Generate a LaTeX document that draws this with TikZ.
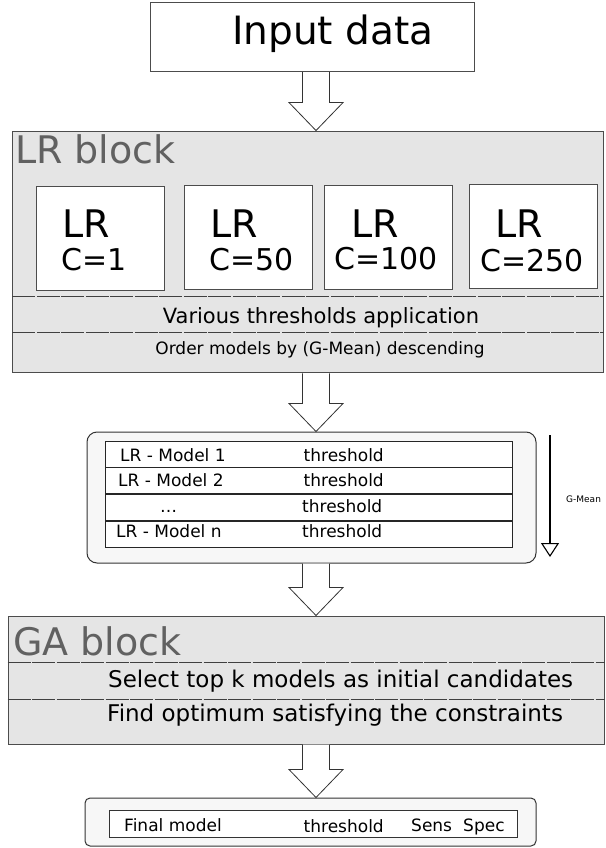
\documentclass[tikz,border=0pt]{standalone}
\usepackage{fontspec}
\setmainfont{DejaVu Sans}
\usetikzlibrary{positioning,calc,arrows.meta}
\definecolor{blockfill}{gray}{0.9}
\definecolor{edgegray}{gray}{0.3}
\definecolor{titlegray}{gray}{0.38}

% hollow block arrow from the bottom of #1 to the top of #2
\newcommand{\fatarrow}[2]{%
  \draw[hollow] ($(ax |- #1.south)+(-13.5,0)$) -- ($(ax |- #2.north)+(-13.5,-28)$)
    -- ++(-13.5,0) -- (ax |- #2.north) -- ($(ax |- #2.north)+(27,-28)$)
    -- ++(-13.5,0) -- ($(ax |- #1.south)+(13.5,0)$);}

\begin{document}
\begin{tikzpicture}[
  x=1pt, y=-1pt,
  block/.style = {
    draw = edgegray,
    fill = blockfill,
    rectangle,
    line width = 1pt,
  },
  model/.style = {
    draw = edgegray,
    fill = white,
    rectangle,
    line width = 0.9pt,
    minimum width = 128pt,
    minimum height = 104pt,
  },
  plain/.style = {
    draw = black!80,
    fill = white,
    rectangle,
    line width = 1pt,
  },
  panel/.style = {
    plain,
    fill = black!3,
  },
  tbl/.style = {
    draw = black!85,
    fill = white,
    rectangle,
    line width = 0.9pt,
    minimum width = 407pt,
    minimum height = 26pt,
    inner sep = 0pt,
  },
  txt/.style = {
    inner sep = 0pt,
    anchor = base west,
    font = \fontsize{#1}{#1}\selectfont,
  },
  title/.style = {
    txt = 38,
    text = titlegray,
  },
  sep/.style = {
    draw = black!75,
    line width = 0.8pt,
    dash pattern = on 23pt off 1.5pt,
  },
  hollow/.style = {
    draw = black!80,
    fill = white,
    line width = 0.8pt,
  },
]

  \useasboundingbox (0,0) rectangle (605,848);
  \coordinate (ax) at (316,0);

  % input
  \node[plain,draw=edgegray,minimum width=324pt,minimum height=69pt] (in) at (312,37.2) {};
  \node[txt=39] (int) at (232,45) {Input data};

  % LR block
  \node[block,minimum width=591pt,minimum height=241.7pt] (lr) at (308.3,251.9) {};
  \node[title] (lrt) at (15,163) {LR block};

  \node[model] (m1) at (100,238) {};
  \node[model] (m2) at (248,237) {};
  \node[model] (m3) at (388.5,237) {};
  \node[model] (m4) at (533,236) {};

  \node[txt=38] (l1) at (62,237) {LR};
  \node[txt=38] (l2) at (210,237) {LR};
  \node[txt=38] (l3) at (351,237) {LR};
  \node[txt=38] (l4) at (495,237) {LR};
  \node[txt=30] (c1) at (61,270) {C=1};
  \node[txt=30] (c2) at (209,270) {C=50};
  \node[txt=30] (c3) at (334,269) {C=100};
  \node[txt=30] (c4) at (480,271) {C=250};

  \draw[sep] (lr.west |- 0,296) -- (lr.east |- 0,296);
  \draw[sep] (lr.west |- 0,332) -- (lr.east |- 0,332);
  \node[txt=21,anchor=base] (thr) at (321,323) {Various thresholds application};
  \node[txt=17,anchor=base] (ord) at (320,354) {Order models by (G-Mean) descending};

  % ranked models
  \node[panel,rounded corners=10pt,minimum width=449pt,minimum height=131pt] (rank) at (311.5,497.5) {};
  \node[tbl] (r1) at (308.5,454) {};
  \node[tbl] (r2) [below=0pt of r1] {};
  \node[tbl] (r3) [below=0pt of r2] {};
  \node[tbl] (r4) [below=0pt of r3] {};

  \node[txt=17] (n1) at (120,461) {LR - Model 1};
  \node[txt=17] (n2) at (118,486) {LR - Model 2};
  \node[txt=17] (n3) at (160,512) {…};
  \node[txt=17] (n4) at (116,537) {LR - Model n};
  \node[txt=17] (t1) at (303.5,461) {threshold};
  \node[txt=17] (t2) at (303.5,486) {threshold};
  \node[txt=17] (t3) at (302,512) {threshold};
  \node[txt=17] (t4) at (302,537) {threshold};

  \coordinate (gtop) at (550,435);
  \coordinate (gbot) at (550,557);
  \draw[line width=1.1pt,-{Triangle[open,length=14pt,width=18pt]}] (gtop) -- (gbot);
  \node[txt=9,anchor=west] (gm) at (566,499) {G-Mean};

  % GA block
  \node[block,minimum width=596pt,minimum height=128pt] (ga) at (306,680) {};
  \node[title] (gat) at (13,655) {GA block};
  \draw[sep] (ga.west |- 0,662) -- (ga.east |- 0,662);
  \draw[sep] (ga.west |- 0,699) -- (ga.east |- 0,699);
  \node[txt=23] (sel) at (108,687) {Select top k models as initial candidates};
  \node[txt=23] (opt) at (107,721) {Find optimum satisfying the constraints};

  % final model
  \node[panel,rounded corners=5pt,minimum width=451pt,minimum height=48pt] (fin) at (310.5,822) {};
  \node[plain,minimum width=408pt,minimum height=27pt] (fr) at (313,823.5) {};
  \node[txt=17] (f1) at (124,831) {Final model};
  \node[txt=17] (f2) at (303.5,832) {threshold};
  \node[txt=17] (f3) at (411,831) {Sens};
  \node[txt=17] (f4) at (463,831) {Spec};

  \fatarrow{in}{lr}
  \fatarrow{lr}{rank}
  \fatarrow{rank}{ga}
  \fatarrow{ga}{fin}

\end{tikzpicture}
\end{document}
